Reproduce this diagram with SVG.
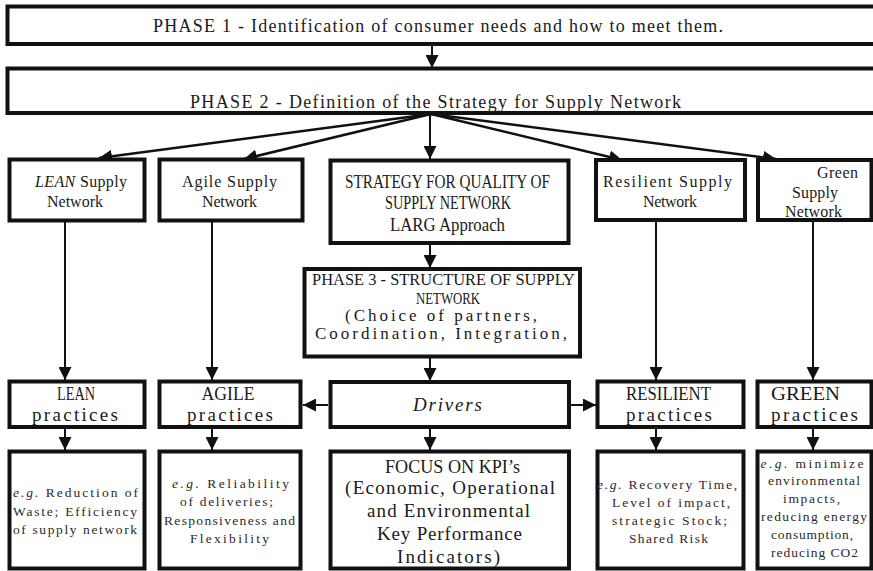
<svg xmlns="http://www.w3.org/2000/svg" width="873" height="571" viewBox="0 0 873 571">
  <style>
    .box { fill: #fff; stroke: #111; stroke-width: 4; }
    .t { font-family: "Liberation Serif", "DejaVu Serif", serif; fill: #1a1a1a; text-anchor: middle; }
    .lg { font-size: 18px; }
    .p3 { font-size: 17px; }
    .p3c { font-size: 17.5px; }
    .md { font-size: 16px; }
    .pr { font-size: 19px; }
    .sm { font-size: 13.5px; fill: #2a2a2a; }
    .it { font-style: italic; }
    .link { fill: none; stroke: #111; stroke-width: 2; }
    .fan { fill: none; stroke: #111; stroke-width: 2.5; }
  </style>
  <defs>
    <marker id="head" viewBox="0 0 12 12" refX="12" refY="6" markerWidth="13" markerHeight="13" markerUnits="userSpaceOnUse" orient="auto">
      <path d="M0,0 L12,6 L0,12 Z" fill="#111"/>
    </marker>
  </defs>

  <rect width="873" height="571" fill="#fff"/>

  <!-- connectors -->
  <g id="connectors">
    <path class="link" d="M432,46 V68" marker-end="url(#head)"/>
    <path class="fan" d="M431,114 L99,158" marker-end="url(#head)"/>
    <path class="fan" d="M431,114 L244,159" marker-end="url(#head)"/>
    <path class="link" d="M430,114 V159" marker-end="url(#head)"/>
    <path class="fan" d="M431,114 L622,160" marker-end="url(#head)"/>
    <path class="fan" d="M431,114 L776,159" marker-end="url(#head)"/>
    <path class="link" d="M65,222 V380" marker-end="url(#head)"/>
    <path class="link" d="M212,222 V380" marker-end="url(#head)"/>
    <path class="link" d="M656,222 V380" marker-end="url(#head)"/>
    <path class="link" d="M813,222 V380" marker-end="url(#head)"/>
    <path class="link" d="M430,245 V268" marker-end="url(#head)"/>
    <path class="link" d="M430,358 V381" marker-end="url(#head)"/>
    <path class="link" d="M430,429 V450" marker-end="url(#head)"/>
    <path class="link" d="M328,405 H303" marker-end="url(#head)"/>
    <path class="link" d="M571,405 H596" marker-end="url(#head)"/>
    <path class="link" d="M65,429 V450" marker-end="url(#head)"/>
    <path class="link" d="M212,429 V450" marker-end="url(#head)"/>
    <path class="link" d="M656,429 V450" marker-end="url(#head)"/>
    <path class="link" d="M813,429 V450" marker-end="url(#head)"/>
  </g>

  <!-- phases -->
  <g id="phase1">
    <rect class="box" x="7.5" y="6.5" width="880" height="37.5"/>
    <text class="t lg" x="438" y="32" textLength="570" lengthAdjust="spacing">PHASE 1 - Identification of consumer needs and how to meet them.</text>
  </g>
  <g id="phase2">
    <rect class="box" x="7.5" y="68.5" width="880" height="44.5"/>
    <text class="t lg" x="435.5" y="108" textLength="491" lengthAdjust="spacing">PHASE 2 - Definition of the Strategy for Supply Network</text>
  </g>

  <!-- supply network strategies -->
  <g id="lean-network">
    <rect class="box" x="9.5" y="159.5" width="135" height="61"/>
    <text class="t md" x="81" y="187" textLength="92" lengthAdjust="spacing"><tspan class="it">LEAN</tspan> Supply</text>
    <text class="t md" x="75" y="207" textLength="56" lengthAdjust="spacing">Network</text>
  </g>
  <g id="agile-network">
    <rect class="box" x="159.5" y="159.5" width="143" height="61"/>
    <text class="t md" x="229.5" y="187" textLength="95" lengthAdjust="spacing">Agile Supply</text>
    <text class="t md" x="229.5" y="207" textLength="55" lengthAdjust="spacing">Network</text>
  </g>
  <g id="strategy">
    <rect class="box" x="330.5" y="160.5" width="238" height="82.5"/>
    <text class="t lg" x="447.5" y="188" textLength="205" lengthAdjust="spacingAndGlyphs">STRATEGY FOR QUALITY OF</text>
    <text class="t lg" x="448" y="209" textLength="126" lengthAdjust="spacingAndGlyphs">SUPPLY NETWORK</text>
    <text class="t lg" x="447.5" y="231" textLength="115" lengthAdjust="spacingAndGlyphs">LARG Approach</text>
  </g>
  <g id="resilient-network">
    <rect class="box" x="596" y="160" width="149" height="60"/>
    <text class="t md" x="667.5" y="187" textLength="129" lengthAdjust="spacing">Resilient Supply</text>
    <text class="t md" x="670" y="207" textLength="54" lengthAdjust="spacing">Network</text>
  </g>
  <g id="green-network">
    <rect class="box" x="758" y="160" width="113.5" height="60"/>
    <text class="t md" x="837.5" y="178" textLength="41" lengthAdjust="spacing">Green</text>
    <text class="t md" x="815" y="198" textLength="46" lengthAdjust="spacing">Supply</text>
    <text class="t md" x="813.5" y="217" textLength="57" lengthAdjust="spacing">Network</text>
  </g>

  <g id="phase3">
    <rect class="box" x="304.5" y="269" width="275.5" height="87.5"/>
    <text class="t p3c" x="443.5" y="285" textLength="263" lengthAdjust="spacingAndGlyphs">PHASE 3 - STRUCTURE OF SUPPLY</text>
    <text class="t p3c" x="448" y="303.5" textLength="64" lengthAdjust="spacingAndGlyphs">NETWORK</text>
    <text class="t p3" x="441" y="321" textLength="192" lengthAdjust="spacing">(Choice of partners,</text>
    <text class="t p3" x="441" y="338.5" textLength="252" lengthAdjust="spacing">Coordination, Integration,</text>
  </g>

  <!-- practices -->
  <g id="lean-practices">
    <rect class="box" x="9.5" y="381.5" width="135" height="45.5"/>
    <text class="t pr" x="76" y="400" textLength="38" lengthAdjust="spacingAndGlyphs">LEAN</text>
    <text class="t pr" x="75" y="421" textLength="86" lengthAdjust="spacing">practices</text>
  </g>
  <g id="agile-practices">
    <rect class="box" x="159.5" y="381.5" width="141" height="45.5"/>
    <text class="t pr" x="228" y="400" textLength="53" lengthAdjust="spacingAndGlyphs">AGILE</text>
    <text class="t pr" x="230" y="421" textLength="86" lengthAdjust="spacing">practices</text>
  </g>
  <g id="drivers">
    <rect class="box" x="330.5" y="382" width="238.5" height="45"/>
    <text class="t pr it" x="447.5" y="411" textLength="69" lengthAdjust="spacing">Drivers</text>
  </g>
  <g id="resilient-practices">
    <rect class="box" x="597.5" y="381.5" width="146" height="45.5"/>
    <text class="t pr" x="668.5" y="400" textLength="85" lengthAdjust="spacingAndGlyphs">RESILIENT</text>
    <text class="t pr" x="669" y="421" textLength="86" lengthAdjust="spacing">practices</text>
  </g>
  <g id="green-practices">
    <rect class="box" x="757.5" y="381.5" width="114" height="45.5"/>
    <text class="t pr" x="805.5" y="400" textLength="69" lengthAdjust="spacingAndGlyphs">GREEN</text>
    <text class="t pr" x="814.5" y="421" textLength="87" lengthAdjust="spacing">practices</text>
  </g>

  <!-- examples and KPIs -->
  <g id="lean-examples">
    <rect class="box" x="9.5" y="451.5" width="135" height="117"/>
    <text class="t sm" x="75.5" y="497" textLength="125" lengthAdjust="spacing"><tspan class="it">e.g.</tspan>  Reduction of</text>
    <text class="t sm" x="75" y="516" textLength="124" lengthAdjust="spacing">Waste; Efficiency</text>
    <text class="t sm" x="75" y="534" textLength="124" lengthAdjust="spacing">of supply network</text>
  </g>
  <g id="agile-examples">
    <rect class="box" x="159.5" y="451.5" width="141" height="117"/>
    <text class="t sm" x="230.5" y="488" textLength="117" lengthAdjust="spacing"><tspan class="it">e.g.</tspan> Reliability</text>
    <text class="t sm" x="226.5" y="506" textLength="93" lengthAdjust="spacing">of deliveries;</text>
    <text class="t sm" x="229.5" y="525" textLength="131" lengthAdjust="spacing">Responsiveness and</text>
    <text class="t sm" x="229.5" y="543" textLength="79" lengthAdjust="spacing">Flexibility</text>
  </g>
  <g id="kpi-focus">
    <rect class="box" x="330.5" y="451.5" width="238.5" height="117"/>
    <text class="t pr" x="452.5" y="473" textLength="135" lengthAdjust="spacingAndGlyphs">FOCUS ON KPI’s</text>
    <text class="t pr" x="450" y="494" textLength="210" lengthAdjust="spacing">(Economic, Operational</text>
    <text class="t pr" x="448.5" y="517" textLength="163" lengthAdjust="spacing">and Environmental</text>
    <text class="t pr" x="449.5" y="540" textLength="145" lengthAdjust="spacing">Key Performance</text>
    <text class="t pr" x="448.5" y="563" textLength="103" lengthAdjust="spacing">Indicators)</text>
  </g>
  <g id="resilient-examples">
    <rect class="box" x="597.5" y="451.5" width="146" height="117"/>
    <text class="t sm" x="667" y="489" textLength="140" lengthAdjust="spacing"><tspan class="it">e.g.</tspan> Recovery Time,</text>
    <text class="t sm" x="671" y="507" textLength="118" lengthAdjust="spacing">Level of impact,</text>
    <text class="t sm" x="669.5" y="525" textLength="115" lengthAdjust="spacing">strategic Stock;</text>
    <text class="t sm" x="668.5" y="543" textLength="79" lengthAdjust="spacing">Shared Risk</text>
  </g>
  <g id="green-examples">
    <rect class="box" x="757.5" y="451.5" width="114" height="117"/>
    <text class="t sm" x="812" y="468" textLength="103" lengthAdjust="spacing"><tspan class="it">e.g.</tspan> minimize</text>
    <text class="t sm" x="814" y="485" textLength="92" lengthAdjust="spacing">environmental</text>
    <text class="t sm" x="811.5" y="503" textLength="57" lengthAdjust="spacing">impacts,</text>
    <text class="t sm" x="814" y="521" textLength="106" lengthAdjust="spacing">reducing energy</text>
    <text class="t sm" x="812" y="539" textLength="82" lengthAdjust="spacing">consumption,</text>
    <text class="t sm" x="814.5" y="557" textLength="87" lengthAdjust="spacing">reducing CO2</text>
  </g>
</svg>
